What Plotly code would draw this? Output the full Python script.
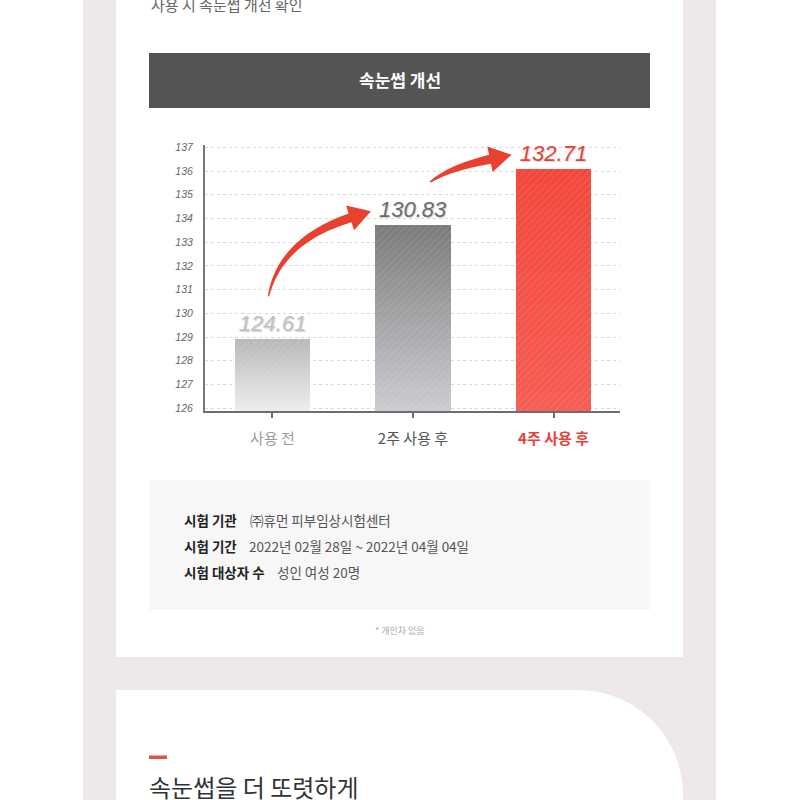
import math
import plotly.graph_objects as go

# ---------------- data ----------------
CATEGORIES = ["사용 전", "2주 사용 후", "4주 사용 후"]
BAR_HEIGHTS = [128.9, 133.72, 136.1]          # bar tops as drawn on the axis
VALUE_LABELS = ["124.61", "130.83", "132.71"]  # printed values
Y_TICKS = [126, 127, 128, 129, 130, 131, 132, 133, 134, 135, 136, 137]

INFO_LABELS = ["시험 기관", "시험 기간", "시험 대상자 수"]
INFO_VALUES = ["㈜휴먼 피부임상시험센터", "2022년 02월 28일 ~ 2022년 04월 04일", "성인 여성 20명"]

# ---------------- styles ----------------
W = H = 800
KR = "Noto Sans CJK KR"
XR = [-0.48, 2.473]
YR = [125.9, 137.1]
XD = [205, 620]       # pixel extent of plot area (x)
YD = [145, 410.5]     # pixel extent of plot area (y, top/bottom)

GRAD_TOP = ["#b9b9b9", "#7b7b7b", "#f3463b"]
GRAD_BOT = ["#ededef", "#cbccd1", "#f55c53"]
LABEL_COLORS = ["#c2c2c2", "#6c6c6c", "#e5433a"]
CAT_COLORS = ["#9a9a9a", "#555555", "#e5433a"]
CAT_BOLD = [False, False, True]
ARROW_COLOR = "#e8412f"
BAR_WIDTH = 0.534
N_LAYERS = 48


def px_x(x):
    return XD[0] + (x - XR[0]) / (XR[1] - XR[0]) * (XD[1] - XD[0])


def px_y(y):
    return YD[1] - (y - YR[0]) / (YR[1] - YR[0]) * (YD[1] - YD[0])


def P(x, y):
    return x / W, 1 - y / H


def hexrgb(h):
    h = h.lstrip("#")
    return [int(h[i:i + 2], 16) for i in (0, 2, 4)]


def mix(c1, c2, t):
    a, b = hexrgb(c1), hexrgb(c2)
    return "rgb(%d,%d,%d)" % tuple(round(a[i] + (b[i] - a[i]) * t) for i in range(3))


fig = go.Figure()
xs = list(range(len(CATEGORIES)))

# stepped vertical gradient built from the bar values
for k in range(N_LAYERS, 0, -1):
    f = k / N_LAYERS
    ys = [YR[0] + (v - YR[0]) * f for v in BAR_HEIGHTS]
    cols = [mix(GRAD_BOT[i], GRAD_TOP[i], f) for i in range(len(xs))]
    fig.add_trace(go.Bar(x=xs, y=ys, width=BAR_WIDTH, marker=dict(color=cols, line=dict(width=0)),
                         hoverinfo="skip", showlegend=False))

# diagonal stripe texture + value labels
fig.add_trace(go.Bar(
    x=xs, y=BAR_HEIGHTS, width=BAR_WIDTH,
    marker=dict(color="rgba(0,0,0,0)", line=dict(width=0),
                pattern=dict(shape="/", fgcolor="rgba(255,255,255,0.16)", bgcolor="rgba(0,0,0,0)",
                             size=5, solidity=0.35)),
    text=VALUE_LABELS, textposition="outside", cliponaxis=False,
    textfont=dict(family="Liberation Sans Narrow, Liberation Sans", size=22, style="italic", color=LABEL_COLORS,
                  shadow="1px 1px 1px rgba(0,0,0,0.18)"),
    hoverinfo="skip", showlegend=False,
))

ticktext = []
for c, col, b in zip(CATEGORIES, CAT_COLORS, CAT_BOLD):
    t = '<span style="color:%s">%s</span>' % (col, c)
    ticktext.append("<b>%s</b>" % t if b else t)

shapes = []
# page background
shapes.append(dict(type="rect", xref="paper", yref="paper", x0=83 / W, x1=716 / W, y0=0, y1=1,
                   fillcolor="#efe8e8", line=dict(width=0), layer="below"))
shapes.append(dict(type="rect", xref="paper", yref="paper", x0=116 / W, x1=683 / W, y0=1 - 657 / H, y1=1,
                   fillcolor="white", line=dict(width=0), layer="below"))
R = 105
kap = 0.5523 * R
pts = [P(116, 800), P(116, 690), P(683 - R, 690)]
c1 = P(683 - R + kap, 690)
c2 = P(683, 690 + R - kap)
e = P(683, 690 + R)
path = "M %.5f,%.5f L %.5f,%.5f L %.5f,%.5f C %.5f,%.5f %.5f,%.5f %.5f,%.5f L %.5f,%.5f Z" % (
    pts[0] + pts[1] + pts[2] + c1 + c2 + e + P(683, 800))
shapes.append(dict(type="path", xref="paper", yref="paper", path=path, fillcolor="white",
                   line=dict(width=0), layer="below"))
# header bar
shapes.append(dict(type="rect", xref="paper", yref="paper", x0=149 / W, x1=650 / W, y0=1 - 108 / H, y1=1 - 53 / H,
                   fillcolor="#545454", line=dict(width=0), layer="below"))
# info box
shapes.append(dict(type="rect", xref="paper", yref="paper", x0=149 / W, x1=650 / W, y0=1 - 610 / H, y1=1 - 480 / H,
                   fillcolor="#f7f7f7", line=dict(width=0), layer="below"))
# red dash
shapes.append(dict(type="rect", xref="paper", yref="paper", x0=149 / W, x1=167 / W, y0=1 - 759 / H, y1=1 - 755.5 / H,
                   fillcolor="#de5247", line=dict(width=0), layer="below"))


# curved arrows between consecutive bars
def arrow_path(tail, tip, angle_deg, head_len=22, head_hw=13, body_hw=4.6, tail_hw=0.6, k=0.65, n=30):
    a = math.radians(angle_deg)
    d = (math.cos(a), -math.sin(a))
    B = (tip[0] - head_len * d[0], tip[1] - head_len * d[1])
    L = math.hypot(B[0] - tail[0], B[1] - tail[1])
    C = (B[0] - k * L * d[0], B[1] - k * L * d[1])
    left, right = [], []
    for i in range(n + 1):
        t = i / n
        x = (1 - t) ** 2 * tail[0] + 2 * (1 - t) * t * C[0] + t * t * B[0]
        y = (1 - t) ** 2 * tail[1] + 2 * (1 - t) * t * C[1] + t * t * B[1]
        dx = 2 * (1 - t) * (C[0] - tail[0]) + 2 * t * (B[0] - C[0])
        dy = 2 * (1 - t) * (C[1] - tail[1]) + 2 * t * (B[1] - C[1])
        m = math.hypot(dx, dy)
        nx, ny = -dy / m, dx / m
        hw = tail_hw + (body_hw - tail_hw) * t ** 0.8
        left.append((x + nx * hw, y + ny * hw))
        right.append((x - nx * hw, y - ny * hw))
    nx, ny = -d[1], d[0]
    poly = left + [(B[0] + nx * head_hw, B[1] + ny * head_hw), tip,
                   (B[0] - nx * head_hw, B[1] - ny * head_hw)] + right[::-1]
    s = "M " + " L ".join("%.5f,%.5f" % P(*p) for p in poly) + " Z"
    return s


ARROW_TAIL_DX = [-4, 17]
ARROW_ANGLE = [18, 12]
for i in range(len(BAR_HEIGHTS) - 1):
    tail = (px_x(xs[i]) + ARROW_TAIL_DX[i], px_y(BAR_HEIGHTS[i]) - 43)
    tip = (px_x(xs[i + 1]) - 42, px_y(BAR_HEIGHTS[i + 1]) - 14)
    shapes.append(dict(type="path", xref="paper", yref="paper", path=arrow_path(tail, tip, ARROW_ANGLE[i]),
                       fillcolor=ARROW_COLOR, line=dict(width=0), layer="above"))

annotations = []


def ann(text, x, y, size, color, xanchor="left", bold=False, family=KR):
    annotations.append(dict(text="<b>%s</b>" % text if bold else text, xref="paper", yref="paper",
                            x=x / W, y=1 - y / H, xanchor=xanchor, yanchor="middle", showarrow=False,
                            font=dict(family=family, size=size, color=color)))


ann("사용 시 속눈썹 개선 확인", 149, 5, 15, "#666666")
ann("속눈썹 개선", 400, 80, 17, "white", xanchor="center", bold=True)
rows_y = [520, 546, 572]
vals_x = [248, 247, 275]
for lab, val, yy, vx in zip(INFO_LABELS, INFO_VALUES, rows_y, vals_x):
    ann(lab, 182, yy, 13.5, "#222222", bold=True)
    ann(val, vx, yy, 13.5, "#555555")
ann("* 개인차 있음", 400, 630, 9, "#aaaaaa", xanchor="center")
ann("속눈썹을 더 또렷하게", 147, 786, 24, "#333333")

fig.update_layout(
    width=W, height=H, margin=dict(l=0, r=0, t=0, b=0, autoexpand=False),
    paper_bgcolor="white", plot_bgcolor="rgba(0,0,0,0)",
    barmode="overlay", bargap=0, showlegend=False,
    shapes=shapes, annotations=annotations,
    xaxis=dict(domain=[XD[0] / W, XD[1] / W], range=XR, tickmode="array", tickvals=xs, ticktext=ticktext,
               showline=True, linecolor="#6e6e6e", linewidth=1.6, ticks="outside", ticklen=6,
               tickcolor="#6e6e6e", tickwidth=1.6, showgrid=False, zeroline=False,
               tickfont=dict(family=KR, size=15), ticklabelstandoff=8, fixedrange=True),
    yaxis=dict(domain=[1 - YD[1] / H, 1 - YD[0] / H], range=YR, tickmode="array", tickvals=Y_TICKS,
               showline=True, linecolor="#777777", linewidth=2, ticks="", showgrid=True,
               gridcolor="#d8d8d8", griddash="dot", gridwidth=1, zeroline=False,
               tickfont=dict(family="Liberation Sans", size=10.5, color="#666666", style="italic"),
               ticklabelstandoff=8, fixedrange=True),
)

fig.write_html("out.html", config={"displayModeBar": False},
               post_script="document.body.style.margin='0';document.body.style.padding='0';"
                           "document.documentElement.style.margin='0';"
                           "var d=document.getElementById('{plot_id}');d.style.position='absolute';"
                           "d.style.top='0px';d.style.left='0px';")
